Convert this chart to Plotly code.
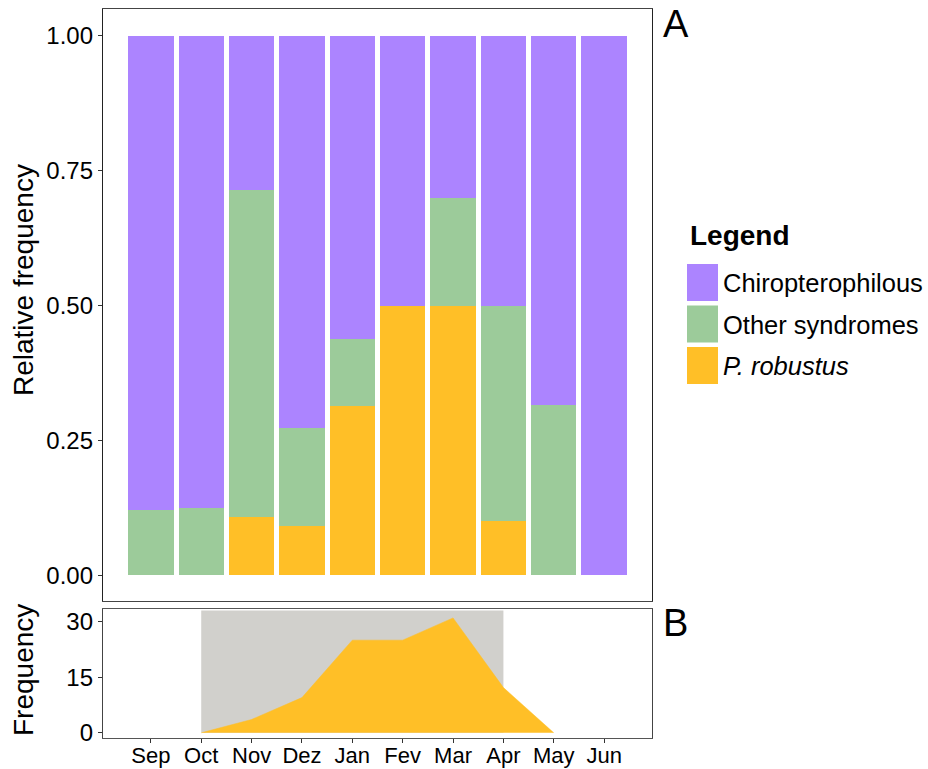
import plotly.graph_objects as go

months = ["Sep", "Oct", "Nov", "Dez", "Jan", "Fev", "Mar", "Apr", "May", "Jun"]
chiro = [0.880, 0.875, 0.286, 0.727, 0.562, 0.500, 0.300, 0.500, 0.684, 1.000]
other = [0.120, 0.125, 0.607, 0.182, 0.125, 0.000, 0.200, 0.400, 0.316, 0.000]
probus = [0.000, 0.000, 0.107, 0.091, 0.313, 0.500, 0.500, 0.100, 0.000, 0.000]

freq_months = ["Oct", "Nov", "Dez", "Jan", "Fev", "Mar", "Apr", "May"]
freq_values = [0, 3.6, 9.5, 25, 25, 31, 12.2, 0]
season_start, season_end = "Oct", "Apr"

series_names = ["Chiropterophilous", "Other syndromes", "<i>P. robustus</i>"]
colors = ["#AC84FF", "#9CCB9A", "#FFBF27"]
grey = "#D1D0CC"

FONT = "Liberation Sans, Arial, sans-serif"

ML, MR, MT, MB = 103, 276, 9, 31
W, H = 928, 769
px_w = W - ML - MR
px_h = H - MT - MB


def px_to_paper(xp, yp):
    return (xp - ML) / px_w, (H - MB - yp) / px_h


fig = go.Figure()
for name, vals, col in [(series_names[2], probus, colors[2]),
                        (series_names[1], other, colors[1]),
                        (series_names[0], chiro, colors[0])]:
    fig.add_trace(go.Bar(x=months, y=vals, name=name, marker=dict(color=col, line=dict(width=0)),
                         xaxis="x", yaxis="y", showlegend=False))

fig.add_trace(go.Scatter(x=freq_months, y=freq_values, mode="lines", fill="tozeroy",
                         fillcolor=colors[2], line=dict(color=colors[2], width=0.5),
                         xaxis="x2", yaxis="y2", showlegend=False))

xr = [-0.95, 9.95]
top_dom = [(H - MB - 601) / px_h, 1]
bot_dom = [0, (H - MB - 609) / px_h]
fig.update_layout(
    width=W, height=H,
    margin=dict(l=ML, r=MR, t=MT, b=MB),
    paper_bgcolor="white", plot_bgcolor="white",
    barmode="stack", bargap=0.1,
    font=dict(family=FONT, color="black"),
    xaxis=dict(domain=[0, 1], anchor="y", type="category", categoryorder="array",
               categoryarray=months, range=xr, showticklabels=False, ticks="", automargin=False,
               showline=True, mirror=True, linecolor="#444", linewidth=1.3, showgrid=False, zeroline=False),
    yaxis=dict(domain=top_dom, anchor="x", range=[-0.048, 1.05], automargin=False,
               tickvals=[0, 0.25, 0.5, 0.75, 1.0], ticktext=["0.00", "0.25", "0.50", "0.75", "1.00"],
               ticks="outside", ticklen=4, tickcolor="#333", tickfont=dict(size=24, color="black"),
               showline=True, mirror=True, linecolor="#222", linewidth=1.3, showgrid=False, zeroline=False),
    xaxis2=dict(domain=[0, 1], anchor="y2", type="category", categoryorder="array",
                categoryarray=months, range=xr, tickvals=months, automargin=False,
                ticks="outside", ticklen=4, tickcolor="#333", tickfont=dict(size=22, color="black"),
                ticklabelstandoff=-7,
                showline=True, mirror=True, linecolor="#555", linewidth=1.3, showgrid=False, zeroline=False),
    yaxis2=dict(domain=bot_dom, anchor="x2", range=[-1.4, 33.4], automargin=False,
                tickvals=[0, 15, 30], ticks="outside", ticklen=4, tickcolor="#333",
                tickfont=dict(size=24, color="black"),
                showline=True, mirror=True, linecolor="#444", linewidth=1.3, showgrid=False, zeroline=False),
)

# grey season band
fig.add_shape(type="rect", xref="x2", yref="y2",
              x0=months.index(season_start), x1=months.index(season_end),
              y0=0, y1=33, fillcolor=grey, line=dict(width=0), layer="below")

# axis titles
tx, ty = px_to_paper(23, 280)
fig.add_annotation(text="Relative frequency", xref="paper", yref="paper", x=tx, y=ty, textangle=-90,
                   xanchor="center", yanchor="middle", showarrow=False, font=dict(size=28, family=FONT))
tx, ty = px_to_paper(23, 670)
fig.add_annotation(text="Frequency", xref="paper", yref="paper", x=tx, y=ty, textangle=-90,
                   xanchor="center", yanchor="middle", showarrow=False, font=dict(size=28, family=FONT))

# panel labels
ax_, ay_ = px_to_paper(661, 24)
fig.add_annotation(text="A", xref="paper", yref="paper", x=ax_, y=ay_, xanchor="left", yanchor="middle",
                   showarrow=False, font=dict(size=38, family=FONT))
bx_, by_ = px_to_paper(661, 623)
fig.add_annotation(text="B", xref="paper", yref="paper", x=bx_, y=by_, xanchor="left", yanchor="middle",
                   showarrow=False, font=dict(size=38, family=FONT))

# manual legend
lx, ly = px_to_paper(688, 235)
fig.add_annotation(text="<b>Legend</b>", xref="paper", yref="paper", x=lx, y=ly, xanchor="left",
                   yanchor="middle", showarrow=False, font=dict(size=28, family=FONT))
for i, (name, col) in enumerate(zip(series_names, colors)):
    top = 264 + i * 41.5
    x0, y0 = px_to_paper(687, top)
    x1, y1 = px_to_paper(718, top + 37)
    fig.add_shape(type="rect", xref="paper", yref="paper", x0=x0, x1=x1, y0=y1, y1=y0,
                  fillcolor=col, line=dict(width=0))
    tx, ty = px_to_paper(721, top + 19)
    fig.add_annotation(text=name, xref="paper", yref="paper", x=tx, y=ty, xanchor="left",
                       yanchor="middle", showarrow=False, font=dict(size=25.5, family=FONT))

fig.write_html("out.html", config={"displayModeBar": False},
               post_script="document.body.style.margin='0';document.body.style.overflow='hidden';")
